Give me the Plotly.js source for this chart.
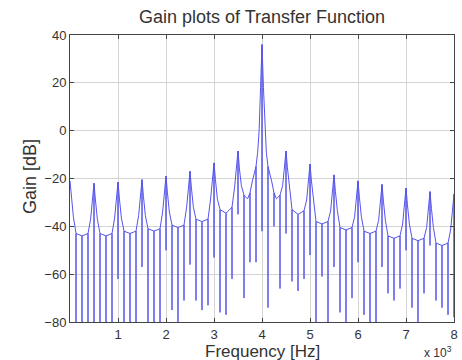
<!DOCTYPE html>
<html><head><meta charset="utf-8">
<script src="https://cdn.plot.ly/plotly-3.0.1.min.js"></script>
<style>html,body{margin:0;padding:0;background:#fff}#chart{width:462px;height:360px}</style>
</head><body><div id="chart"></div>
<script>
// Envelope of the gain curve (frequency in kHz, gain in dB)
const envX = [
  0, 0.03, 0.07, 0.125, 0.25, 0.375, 0.43, 0.47, 0.5,
  0.53, 0.57, 0.625, 0.75, 0.875, 0.93, 0.97, 1.0,
  1.03, 1.07, 1.125, 1.25, 1.375, 1.43, 1.47, 1.5,
  1.53, 1.57, 1.625, 1.75, 1.875, 1.93, 1.97, 2.0,
  2.03, 2.07, 2.125, 2.25, 2.375, 2.43, 2.47, 2.5,
  2.53, 2.57, 2.625, 2.75, 2.875, 2.93, 2.97, 3.0,
  3.03, 3.07, 3.125, 3.25, 3.375, 3.43, 3.47, 3.5,
  3.53, 3.57, 3.625, 3.7, 3.75, 3.8, 3.875, 3.91, 3.94, 3.97, 4.0,
  4.03, 4.06, 4.09, 4.125, 4.2, 4.25, 4.3, 4.375, 4.43, 4.47, 4.5,
  4.53, 4.57, 4.625, 4.75, 4.875, 4.93, 4.97, 5.0,
  5.03, 5.07, 5.125, 5.25, 5.375, 5.43, 5.47, 5.5,
  5.53, 5.57, 5.625, 5.75, 5.875, 5.93, 5.97, 6.0,
  6.03, 6.07, 6.125, 6.25, 6.375, 6.43, 6.47, 6.5,
  6.53, 6.57, 6.625, 6.75, 6.875, 6.93, 6.97, 7.0,
  7.03, 7.07, 7.125, 7.25, 7.375, 7.43, 7.47, 7.5,
  7.53, 7.57, 7.625, 7.75, 7.875, 7.93, 7.97, 8.0
];
const envY = [
  -21, -28, -36, -43, -44, -43, -37, -29, -22,
  -29, -37, -43, -44, -43, -36.5, -28.5, -21.5,
  -28.5, -36.5, -42, -43, -42, -35.5, -27.5, -20.5,
  -27.5, -35.5, -41, -42, -41, -34, -26, -19,
  -26, -34, -39.5, -40.5, -39.5, -32, -24, -17,
  -24, -32, -37, -38, -37, -28.5, -20.5, -13.5,
  -20.5, -28.5, -33, -34.5, -32, -23.5, -15.5, -8.5,
  -16, -23, -27, -28.5, -26, -21, -15, -9, 0, 18, 36,
  18, 0, -9, -15, -21, -26, -28.5, -27, -23, -16, -8.5,
  -15.5, -24, -33, -35, -33.5, -29, -21, -14,
  -21, -29, -38, -39, -38, -33.5, -25.5, -18.5,
  -25.5, -33.5, -40.5, -41.5, -40.5, -36, -28, -21,
  -28, -36, -42, -43, -42, -37.5, -29.5, -22.5,
  -29.5, -37.5, -44, -45, -44, -39, -31, -24,
  -31, -39, -45, -46, -45, -40.5, -32.5, -25.5,
  -32.5, -40.5, -47, -48, -47, -41.5, -33.5, -26.5
];
// Sampled notches (deep dips) of the curve
const notchX = [
  0.125, 0.25, 0.375, 0.5, 0.625, 0.75, 0.875, 1.0,
  1.125, 1.25, 1.375, 1.5, 1.625, 1.75, 1.875, 2.0,
  2.125, 2.25, 2.375, 2.5, 2.625, 2.75, 2.875, 3.0,
  3.125, 3.25, 3.375, 3.5, 3.625, 3.75, 3.875, 4.0,
  4.125, 4.25, 4.375, 4.5, 4.625, 4.75, 4.875, 5.0,
  5.125, 5.25, 5.375, 5.5, 5.625, 5.75, 5.875, 6.0,
  6.125, 6.25, 6.375, 6.5, 6.625, 6.75, 6.875, 7.0,
  7.125, 7.25, 7.375, 7.5, 7.625, 7.75, 7.875, 8.0
];
const notchDepth = [
  -80, -80, -80, -80, -80, -80, -80, -62,
  -80, -80, -80, -57, -80, -80, -80, -50,
  -75, -80, -71, -56, -71, -75, -73, -53,
  -76, -77, -62, -35, -70, -55, -55, -42,
  -74, -40, -66, -43, -63, -67, -62, -52,
  -80, -61, -80, -57, -76, -80, -70, -55,
  -77, -80, -80, -57, -68, -71, -66, -50,
  -74, -80, -68, -48, -71, -74, -77, -78
];
const xTickVals = [1, 2, 3, 4, 5, 6, 7, 8];
const xTickText = ['1', '2', '3', '4', '5', '6', '7', '8'];
const yTickVals = [-80, -60, -40, -20, 0, 20, 40];

// Merge notches into the path as vertical drops at the sample points
const px = [], py = [];
for (let j = 0; j < envX.length; j++) {
  px.push(envX[j]); py.push(envY[j]);
  const k = notchX.findIndex(v => Math.abs(v - envX[j]) < 1e-9);
  if (k >= 0) {
    px.push(envX[j], envX[j]); py.push(notchDepth[k], envY[j]);
  }
}

const font = 'Liberation Sans, Arial, sans-serif';
const trace = {
  x: px, y: py, type: 'scatter', mode: 'lines',
  line: {color: 'rgb(85,85,235)', width: 1},
  hoverinfo: 'skip', showlegend: false
};
const axisCommon = {
  showline: true, mirror: 'ticks', linecolor: '#444', linewidth: 1,
  ticks: 'inside', ticklen: 4, tickcolor: '#444',
  showgrid: true, gridcolor: 'rgb(212,212,212)', gridwidth: 1,
  zeroline: false, tickfont: {family: font, size: 13, color: '#333'}
};
const layout = {
  width: 462, height: 360,
  margin: {l: 70, r: 8, t: 35, b: 38},
  paper_bgcolor: '#fff', plot_bgcolor: '#fff',
  title: {text: 'Gain plots of Transfer Function', font: {family: font, size: 18, color: '#333'},
          x: 262 / 462, xanchor: 'center', y: 1 - 17 / 360, yanchor: 'middle'},
  xaxis: Object.assign({}, axisCommon, {range: [0, 8], tickvals: xTickVals, ticktext: xTickText}),
  yaxis: Object.assign({}, axisCommon, {range: [-80, 40], tickvals: yTickVals}),
  annotations: [
    {text: 'Frequency [Hz]', xref: 'paper', yref: 'paper', x: 0.5, y: -(351 - 322) / 287,
     xanchor: 'center', yanchor: 'middle', showarrow: false, font: {family: font, size: 17, color: '#333'}},
    {text: 'Gain [dB]', xref: 'paper', yref: 'paper', x: -(70 - 30) / 384, y: 1 - (177 - 35) / 287,
     xanchor: 'center', yanchor: 'middle', textangle: -90, showarrow: false, font: {family: font, size: 18, color: '#333'}},
    {text: 'x 10<sup>3</sup>', xref: 'paper', yref: 'paper', x: 1.0, y: -(352 - 322) / 287,
     xanchor: 'right', yanchor: 'middle', showarrow: false, font: {family: font, size: 12, color: '#333'}}
  ]
};
Plotly.newPlot('chart', [trace], layout, {displayModeBar: false, staticPlot: true});
</script>
</body></html>
